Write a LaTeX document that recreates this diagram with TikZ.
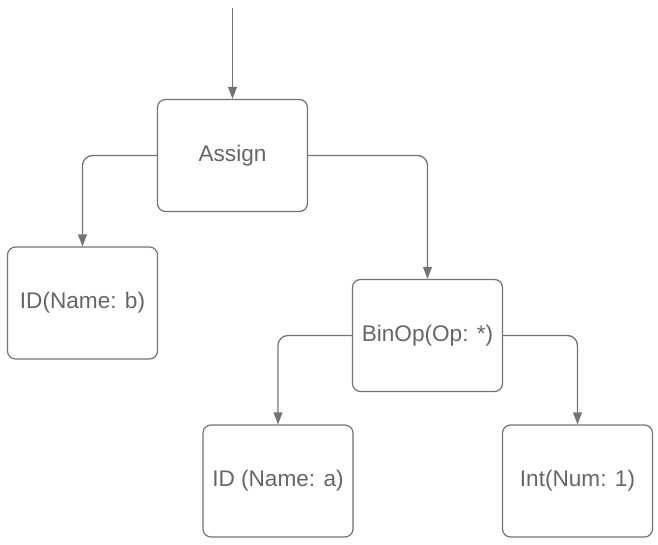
\documentclass[tikz,border=0pt]{standalone}
\usepackage{fontspec}
\setmainfont{Liberation Sans}
\usetikzlibrary{arrows.meta}
\definecolor{linegray}{HTML}{737373}
\definecolor{textgray}{HTML}{666666}
\tikzset{
  treebox/.style={draw=linegray, line width=0.6pt, rounded corners=4pt, fill=white,
    minimum width=75pt, minimum height=56pt, text=textgray,
    font=\fontsize{11.3}{13}\selectfont},
  link/.style={->, draw=linegray, line width=0.65pt, rounded corners=5pt}
}
\begin{document}
\begin{tikzpicture}[>={Triangle[length=6pt,width=4.4pt]}, x=0.5pt, y=-0.5pt]
		\useasboundingbox (0,0) rectangle (658,545);
		\node[treebox] (assign) at (232.5,155.5) {Assign};
		\node[treebox] (idb) at (82.5,303) {ID(Name: b)};
		\node[treebox] (binop) at (427.5,335.5) {BinOp(Op: *)};
		\node[treebox] (ida) at (278,481) {ID (Name: a)};
		\node[treebox] (int) at (577.5,481) {Int(Num: 1)};
		\coordinate (start) at (232.5,8);
		\draw[link] (start) -- (assign.north);
		\draw[link] (assign.west) -| (idb.north);
		\draw[link] (assign.east) -| (binop.north);
		\draw[link] (binop.west) -| (ida.north);
		\draw[link] (binop.east) -| (int.north);
\end{tikzpicture}
\end{document}
